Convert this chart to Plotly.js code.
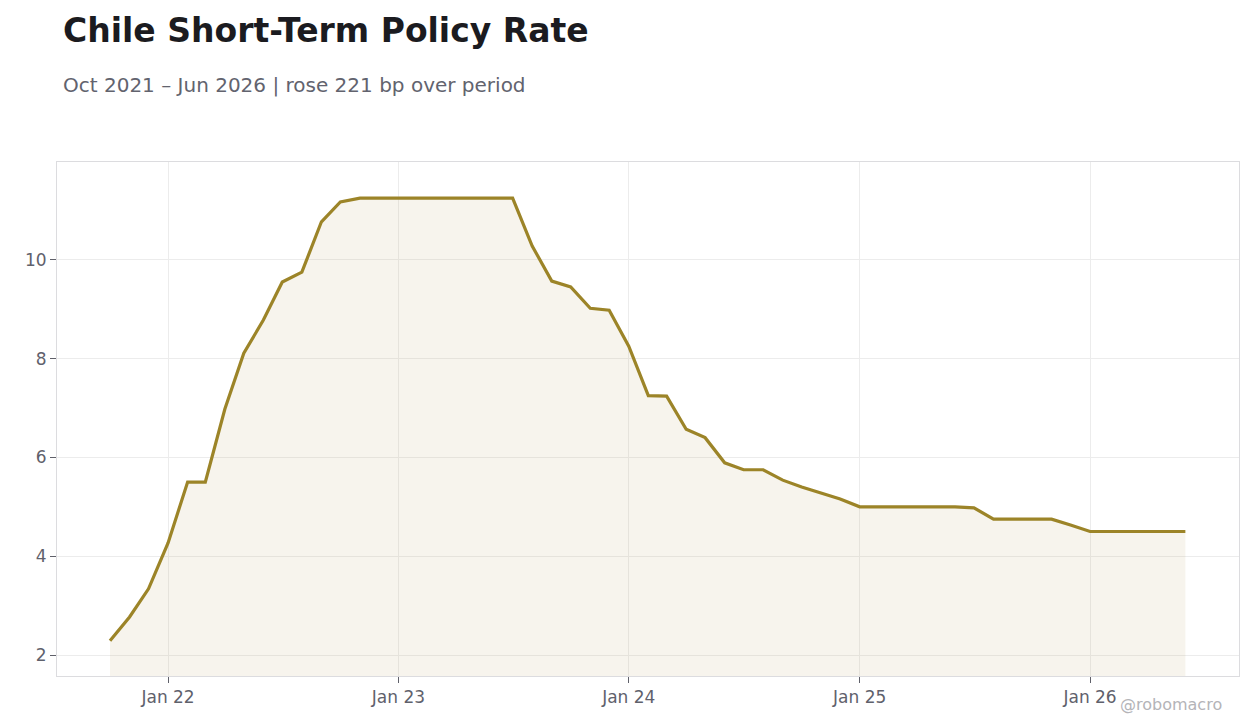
<!DOCTYPE html>
<html>
<head>
<meta charset="utf-8">
<script src="https://cdn.plot.ly/plotly-3.0.1.min.js"></script>
<style>
  html, body { margin: 0; padding: 0; background: #ffffff; }
  #chart { width: 1260px; height: 728px; }
</style>
</head>
<body>
<div id="chart"></div>
<script>
// Monthly observations, Oct 2021 - Jun 2026 (first of month).
const months = [
  "2021-10-01", "2021-11-01", "2021-12-01",
  "2022-01-01", "2022-02-01", "2022-03-01", "2022-04-01", "2022-05-01", "2022-06-01",
  "2022-07-01", "2022-08-01", "2022-09-01", "2022-10-01", "2022-11-01", "2022-12-01",
  "2023-01-01", "2023-02-01", "2023-03-01", "2023-04-01", "2023-05-01", "2023-06-01",
  "2023-07-01", "2023-08-01", "2023-09-01", "2023-10-01", "2023-11-01", "2023-12-01",
  "2024-01-01", "2024-02-01", "2024-03-01", "2024-04-01", "2024-05-01", "2024-06-01",
  "2024-07-01", "2024-08-01", "2024-09-01", "2024-10-01", "2024-11-01", "2024-12-01",
  "2025-01-01", "2025-02-01", "2025-03-01", "2025-04-01", "2025-05-01", "2025-06-01",
  "2025-07-01", "2025-08-01", "2025-09-01", "2025-10-01", "2025-11-01", "2025-12-01",
  "2026-01-01", "2026-02-01", "2026-03-01", "2026-04-01", "2026-05-01", "2026-06-01"
];

const policyRate = [
  2.29, 2.77, 3.34,
  4.27, 5.50, 5.50, 6.98, 8.11, 8.78,
  9.55, 9.75, 10.77, 11.17, 11.25, 11.25,
  11.25, 11.25, 11.25, 11.25, 11.25, 11.25,
  11.25, 10.28, 9.57, 9.45, 9.02, 8.98,
  8.25, 7.25, 7.24, 6.57, 6.40, 5.89,
  5.75, 5.75, 5.54, 5.40, 5.27, 5.16,
  5.00, 5.00, 5.00, 5.00, 5.00, 5.00,
  4.98, 4.75, 4.75, 4.75, 4.75, 4.63,
  4.50, 4.50, 4.50, 4.50, 4.50, 4.50
];

const tickVals = ["2022-01-01", "2023-01-01", "2024-01-01", "2025-01-01", "2026-01-01"];
const tickText = ["Jan 22", "Jan 23", "Jan 24", "Jan 25", "Jan 26"];

const lineColor = "#9c8428";
const fontFamily = "DejaVu Sans, sans-serif";

const data = [{
  x: months,
  y: policyRate,
  type: "scatter",
  mode: "lines",
  fill: "tozeroy",
  fillcolor: "rgba(180,150,80,0.1)",
  line: { color: lineColor, width: 3.2 },
  hoverinfo: "x+y"
}];

const layout = {
  width: 1260,
  height: 728,
  paper_bgcolor: "#ffffff",
  plot_bgcolor: "#ffffff",
  showlegend: false,
  margin: { l: 57, r: 21, t: 162, b: 52 },
  font: { family: fontFamily, color: "#5f6069" },
  title: {
    text: "<b>Chile Short-Term Policy Rate</b>",
    font: { family: fontFamily, size: 33, color: "#1b1b20" },
    x: 63 / 1260,
    xref: "container",
    xanchor: "left",
    y: 1 - 42 / 728,
    yref: "container",
    yanchor: "bottom"
  },
  annotations: [
    {
      text: "Oct 2021 – Jun 2026 | rose 221 bp over period",
      xref: "paper", yref: "paper",
      x: (61 - 57) / 1182, y: 1 + (162 - 99) / 514,
      xanchor: "left", yanchor: "bottom",
      showarrow: false,
      font: { family: fontFamily, size: 20, color: "#62636e" }
    },
    {
      text: "@robomacro",
      xref: "paper", yref: "paper",
      x: (1224 - 57) / 1182, y: -(716 - 676) / 514,
      xanchor: "right", yanchor: "bottom",
      showarrow: false,
      font: { family: fontFamily, size: 16, color: "#b4b4b8" }
    }
  ],
  xaxis: {
    type: "date",
    range: ["2021-07-09", "2026-08-25"],
    tickvals: tickVals,
    ticktext: tickText,
    ticks: "outside",
    ticklen: 6,
    tickcolor: "#5f6069",
    tickfont: { family: fontFamily, size: 17, color: "#5f616c" },
    showgrid: true,
    gridcolor: "#ececec",
    gridwidth: 1,
    zeroline: false,
    showline: true,
    linecolor: "#dcdcdf",
    linewidth: 1,
    mirror: true
  },
  yaxis: {
    range: [1.575, 11.98],
    tickvals: [2, 4, 6, 8, 10],
    ticks: "outside",
    ticklen: 6,
    tickcolor: "#5f6069",
    tickfont: { family: fontFamily, size: 17, color: "#5f616c" },
    showgrid: true,
    gridcolor: "#ececec",
    gridwidth: 1,
    zeroline: false,
    showline: true,
    linecolor: "#dcdcdf",
    linewidth: 1,
    mirror: true
  }
};

Plotly.newPlot("chart", data, layout, { displayModeBar: false, staticPlot: true });
</script>
</body>
</html>
